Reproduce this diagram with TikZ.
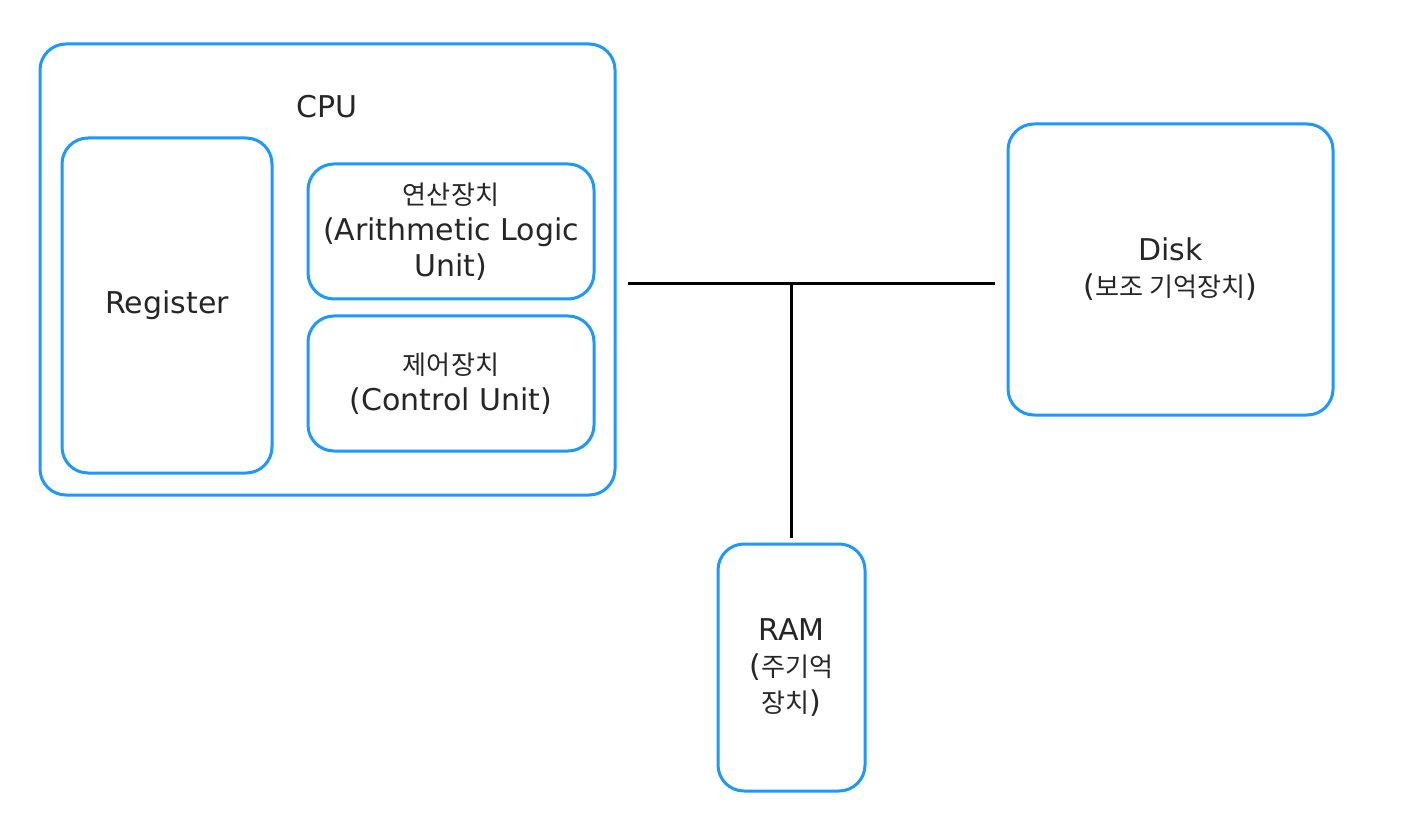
\documentclass[tikz,border=0pt]{standalone}
\usepackage{fontspec}
\setmainfont{DejaVu Sans}
\newfontfamily\kr{Noto Sans CJK KR}[Scale=0.87]
\usepackage{xcolor}
\usepackage{tikz}
\usetikzlibrary{shapes,backgrounds,calc}
\definecolor{unitblue}{RGB}{30,152,255}
\newcommand{\ko}[1]{{\kr #1}}
\begin{document}
\begin{tikzpicture}[x=0.5pt,y=-0.5pt]
        % Define the style for the rounded boxes
        \tikzstyle{unit}=[draw=unitblue, line width=1.5pt, rounded corners=13pt, align=center, text=black!85, inner sep=0pt,
            font=\fontsize{15pt}{18pt}\selectfont];
        \tikzstyle{bus}=[draw=black, line width=1.5pt];

        % Fix the margins
        \useasboundingbox[fill=white] (0,0) rectangle (1406,828);

        % Draw the CPU with its parts
        \node (cpu) [unit, minimum width=287.5pt, minimum height=225.5pt] at (327.5,269.5) {};
        \node (cpulabel) [text=black!85, font=\fontsize{15pt}{18pt}\selectfont] at (327,107) {CPU};
        \node (register) [unit, minimum width=105pt, minimum height=167.5pt] at (167,305.5) {Register};
        \node (alu) [unit, minimum width=143pt, minimum height=67.5pt] at (451,231.5) {\ko{연산장치}\\(Arithmetic Logic\\Unit)};
        \node (cu) [unit, minimum width=143pt, minimum height=67.5pt] at (451,383.5) {\ko{제어장치}\\(Control Unit)};

        % Draw the memories
        \node (disk) [unit, minimum width=162.5pt, minimum height=145.5pt] at (1170.5,269.5) {Disk\\(\ko{보조 기억장치})};
        \node (ram) [unit, minimum width=73.5pt, minimum height=123.5pt] at (791.5,667.5) {RAM\\(\ko{주기억}\\\ko{장치})};

        % Draw the bus between them
        \coordinate (busleft) at ($(cpu.east)+(11,14.5)$);
        \coordinate (busright) at ($(disk.west)+(-12,14.5)$);
        \coordinate (busjoin) at (ram.north |- busleft);
        \coordinate (busdown) at ($(ram.north)+(0,-5)$);
        \draw[bus] (busleft) -- (busright);
        \draw[bus] (busjoin) -- (busdown);

    \end{tikzpicture}
\end{document}
